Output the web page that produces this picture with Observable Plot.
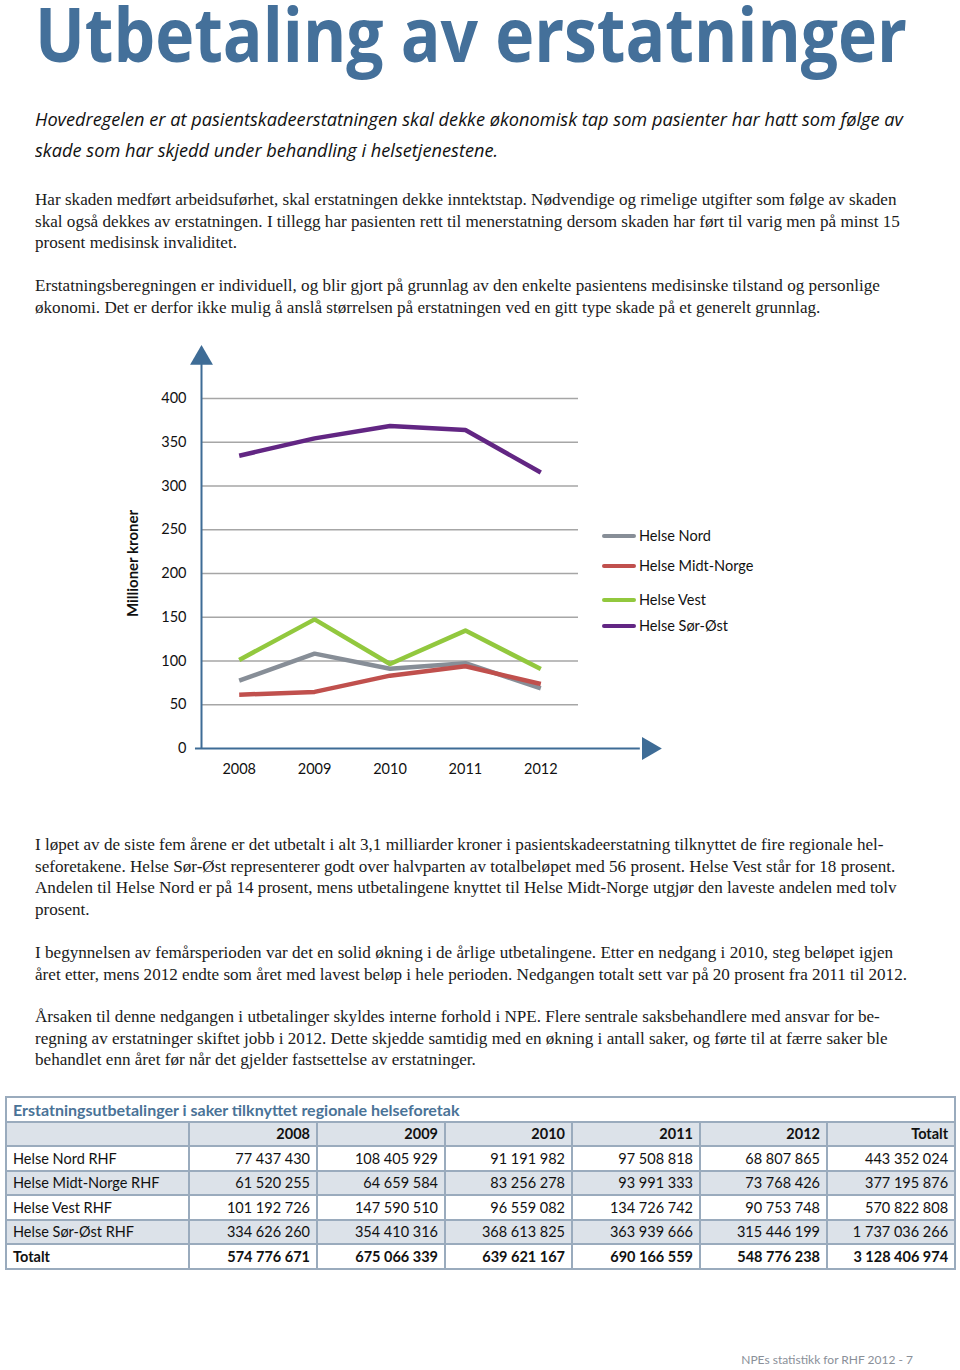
<!DOCTYPE html>
<html>
<head>
<meta charset="utf-8">
<script src="https://cdn.jsdelivr.net/npm/d3@7"></script>
<script src="https://cdn.jsdelivr.net/npm/@observablehq/plot@0.6"></script>
<style>
  html, body { margin: 0; padding: 0; background: #fff; }
  body { width: 960px; height: 1370px; position: relative; overflow: hidden; }
  .abs { position: absolute; white-space: nowrap; }
  #title { left: 35px; top: 0px; font-family: "Open Sans", sans-serif; font-weight: 700; font-size: 75px; color: #44709a; transform-origin: 0 0; line-height: 0.9; }
  .lead { font-family: "Open Sans", sans-serif; font-style: italic; font-size: 19px; color: #111; transform-origin: 0 0; line-height: 31px; }
  .body { font-family: "Liberation Serif", serif; font-size: 16.5px; color: #1a1a1a; transform-origin: 0 0; line-height: 21.6px; }
  #chart { position: absolute; left: 0; top: 330px; }
  #legend { position: absolute; left: 602px; top: 0; font-family: Lato, sans-serif; font-size: 14.5px; color: #111; }
  .lg { position: absolute; left: 0; white-space: nowrap; display: flex; align-items: center; }
  .lg span.sw { display: inline-block; width: 34px; height: 4px; margin-right: 3px; border-radius: 2px; }
  table { position: absolute; left: 5px; top: 1096px; width: 949px; border-collapse: collapse; table-layout: fixed; font-family: Lato, sans-serif; font-size: 14.5px; color: #111; }
  td, th { border: 2px solid #9aabbd; height: 22.5px; padding: 0 6px; white-space: nowrap; box-sizing: content-box; }
  th { font-weight: 700; text-align: right; }
  td.num { text-align: right; }
  tr.gray td, tr.gray th { background: #dce2e9; }
  td.ttl { text-align: left; font-weight: 700; color: #4a7397; font-size: 16px; background: #fff; padding-left: 6px; }
  tr.tot td { font-weight: 700; }
  #footer { right: 47px; top: 1352px; font-family: Lato, sans-serif; font-size: 12px; color: #8a9099; }
</style>
</head>
<body>
<div id="title" class="abs">Utbetaling av erstatninger</div>
<div id="lead" class="abs" style="left:35px; top:104px;"></div>
<div id="p1" class="abs" style="left:35px; top:189px;"></div>
<div id="p2" class="abs" style="left:35px; top:275px;"></div>
<div id="chart"></div>
<div id="p3" class="abs" style="left:35px; top:834px;"></div>
<div id="p4" class="abs" style="left:35px; top:942px;"></div>
<div id="p5" class="abs" style="left:35px; top:1006px;"></div>
<div id="tablewrap"></div>
<div id="footer" class="abs">NPEs statistikk for RHF 2012 - 7</div>

<script>
// ---------- DATA ----------
const years = [2008, 2009, 2010, 2011, 2012];
const regions = ["Helse Nord", "Helse Midt-Norge", "Helse Vest", "Helse Sør-Øst"];
const rowLabels = ["Helse Nord RHF", "Helse Midt-Norge RHF", "Helse Vest RHF", "Helse Sør-Øst RHF"];
const nord   = [77437430, 108405929, 91191982, 97508818, 68807865];
const midt   = [61520255, 64659584, 83256278, 93991333, 73768426];
const vest   = [101192726, 147590510, 96559082, 134726742, 90753748];
const sorOst = [334626260, 354410316, 368613825, 363939666, 315446199];
const rowTotals = [443352024, 377195876, 570822808, 1737036266];
const yearTotals = [574776671, 675066339, 639621167, 690166559, 548776238];
const grandTotal = 3128406974;
const colors = ["#878e97", "#c0504d", "#92c83e", "#622683"];
const yTicks = [0, 50, 100, 150, 200, 250, 300, 350, 400];
const yLabel = "Millioner kroner";
const tableTitle = "Erstatningsutbetalinger i saker tilknyttet regionale helseforetak";
const totalLabel = "Totalt";

const leadLines = [
  "Hovedregelen er at pasientskadeerstatningen skal dekke økonomisk tap som pasienter har hatt som følge av",
  "skade som har skjedd under behandling i helsetjenestene."
];
const p1Lines = [
  "Har skaden medført arbeidsuførhet, skal erstatningen dekke inntektstap. Nødvendige og rimelige utgifter som følge av skaden",
  "skal også dekkes av erstatningen. I tillegg har pasienten rett til menerstatning dersom skaden har ført til varig men på minst 15",
  "prosent medisinsk invaliditet."
];
const p2Lines = [
  "Erstatningsberegningen er individuell, og blir gjort på grunnlag av den enkelte pasientens medisinske tilstand og personlige",
  "økonomi. Det er derfor ikke mulig å anslå størrelsen på erstatningen ved en gitt type skade på et generelt grunnlag."
];
const p3Lines = [
  "I løpet av de siste fem årene er det utbetalt i alt 3,1 milliarder kroner i pasientskadeerstatning tilknyttet de fire regionale hel-",
  "seforetakene. Helse Sør-Øst representerer godt over halvparten av totalbeløpet med 56 prosent. Helse Vest står for 18 prosent.",
  "Andelen til Helse Nord er på 14 prosent, mens utbetalingene knyttet til Helse Midt-Norge utgjør den laveste andelen med tolv",
  "prosent."
];
const p4Lines = [
  "I begynnelsen av femårsperioden var det en solid økning i de årlige utbetalingene. Etter en nedgang i 2010, steg beløpet igjen",
  "året etter, mens 2012 endte som året med lavest beløp i hele perioden. Nedgangen totalt sett var på 20 prosent fra 2011 til 2012."
];
const p5Lines = [
  "Årsaken til denne nedgangen i utbetalinger skyldes interne forhold i NPE. Flere sentrale saksbehandlere med ansvar for be-",
  "regning av erstatninger skiftet jobb i 2012. Dette skjedde samtidig med en økning i antall saker, og førte til at færre saker ble",
  "behandlet enn året før når det gjelder fastsettelse av erstatninger."
];

// ---------- TEXT ----------
function fillLines(id, lines, cls) {
  const el = document.getElementById(id);
  el.className = "abs " + cls;
  el.innerHTML = lines.map(l => `<div>${l}</div>`).join("");
  return el;
}
function fitWidth(el, target) {
  el.style.transform = "none";
  const w = el.getBoundingClientRect().width;
  el.style.transform = `scaleX(${target / w})`;
}
fitWidth(document.getElementById("title"), 872);
const leadEl = fillLines("lead", leadLines, "lead");
(function(){
  const probe = leadEl.firstChild; probe.style.display = "inline-block";
  const w = probe.getBoundingClientRect().width; probe.style.display = "";
  leadEl.style.transform = `scaleX(${868 / w})`;
})();
const bodyEls = ["p1","p2","p3","p4","p5"].map((id, i) => fillLines(id, [p1Lines,p2Lines,p3Lines,p4Lines,p5Lines][i], "body"));
(function(){
  const probe = bodyEls[3].children[1]; probe.style.display = "inline-block";
  const w = probe.getBoundingClientRect().width; probe.style.display = "";
  const s = 872 / w;
  bodyEls.forEach(e => e.style.transform = `scaleX(${s})`);
})();

// ---------- CHART ----------
const series = [nord, midt, vest, sorOst];
const data = [];
series.forEach((vals, si) => vals.forEach((v, i) => data.push({year: years[i], value: v / 1e6, region: regions[si]})));
const axisColor = "#3e6c96";

const chart = Plot.plot({
  width: 960,
  height: 470,
  marginLeft: 201,
  marginRight: 382,
  marginTop: 68,
  marginBottom: 52,
  style: {background: "transparent", fontFamily: "Lato, sans-serif", fontSize: "14.5px", color: "#111", overflow: "visible"},
  x: {domain: [2007.5, 2012.5]},
  y: {domain: [0, 400]},
  color: {domain: regions, range: colors},
  marks: [
    Plot.gridY(yTicks.filter(d => d > 0), {stroke: "#a6a6a6", strokeOpacity: 1, strokeWidth: 1.3}),
    Plot.axisY(yTicks, {tickSize: 0, tickPadding: 15, fontSize: 14.5, label: null}),
    Plot.axisX(years, {tickSize: 0, tickPadding: 15, tickFormat: d => String(d), fontSize: 14.5, label: null}),
    Plot.text([yLabel], {frameAnchor: "left", textAnchor: "middle", dx: -68, dy: -10, rotate: -90, fontWeight: "bold", fontSize: 15}),
    // axis lines with arrows
    Plot.ruleX([2007.5], {y1: 0, y2: 440, stroke: axisColor, strokeWidth: 2}),
    Plot.ruleY([0], {x1: 2007.42, x2: 2013.32, stroke: axisColor, strokeWidth: 2}),
    Plot.dot([{x: 2007.5, y: 446}], {x: "x", y: "y", symbol: "triangle", r: 8.5, fill: axisColor, stroke: null}),
    Plot.dot([{x: 2013.43, y: 0}], {x: "x", y: "y", symbol: "triangle", r: 8.5, rotate: 90, fill: axisColor, stroke: null}),
    Plot.line(data, {x: "year", y: "value", z: "region", stroke: "region", strokeWidth: 4.5, strokeLinejoin: "round", strokeLinecap: "butt"})
  ]
});
document.getElementById("chart").appendChild(chart);

// legend (HTML, beside the chart)
const legend = document.createElement("div");
legend.id = "legend";
const legendTops = [527, 557, 591, 617];
regions.forEach((r, i) => {
  const d = document.createElement("div");
  d.className = "lg";
  d.style.top = (legendTops[i] - 330) + "px";
  d.innerHTML = `<span class="sw" style="background:${colors[i]}"></span>${r}`;
  legend.appendChild(d);
});
document.getElementById("chart").appendChild(legend);

// ---------- TABLE ----------
const fmt = v => d3.format(",")(v).replace(/,/g, " ");
const colW = [183, 128, 128, 127, 128, 127, 128];
let html = `<table><colgroup>${colW.map(w => `<col style="width:${w}px">`).join("")}</colgroup>`;
html += `<tr><td class="ttl" colspan="7">${tableTitle}</td></tr>`;
html += `<tr class="gray"><th></th>${years.map(y => `<th>${y}</th>`).join("")}<th>${totalLabel}</th></tr>`;
series.forEach((vals, i) => {
  html += `<tr class="${i % 2 === 1 ? "gray" : ""}"><td>${rowLabels[i]}</td>${vals.map(v => `<td class="num">${fmt(v)}</td>`).join("")}<td class="num">${fmt(rowTotals[i])}</td></tr>`;
});
html += `<tr class="tot"><td>${totalLabel}</td>${yearTotals.map(v => `<td class="num">${fmt(v)}</td>`).join("")}<td class="num">${fmt(grandTotal)}</td></tr>`;
html += `</table>`;
document.getElementById("tablewrap").innerHTML = html;
</script>
</body>
</html>
